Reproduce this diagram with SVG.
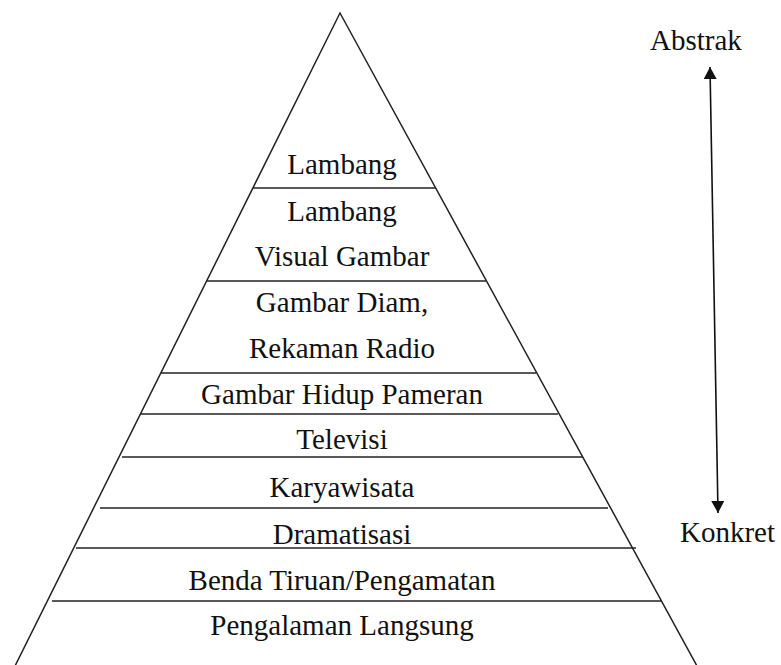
<svg xmlns="http://www.w3.org/2000/svg" width="781" height="665" viewBox="0 0 781 665">
<defs>
<style>
.t{font-family:"Liberation Serif","Times New Roman",serif;font-size:29px;fill:#111;text-anchor:middle}
.s{font-family:"Liberation Serif","Times New Roman",serif;font-size:29px;fill:#111}
.e{stroke:#222;stroke-width:1.5;fill:none}
.h{stroke:#222;stroke-width:1.6;fill:none}
.a{stroke:#111;stroke-width:1.6;fill:none}
</style>
<marker id="ah" viewBox="0 0 12 13" markerWidth="12" markerHeight="13" refX="12" refY="6.5" orient="auto-start-reverse" markerUnits="userSpaceOnUse">
<path d="M0,0 L12,6.5 L0,13 z" fill="#111"/>
</marker>
</defs>
<rect width="781" height="665" fill="#fff"/>
<g id="pyramid">
<polyline class="e" points="15,666 340,13 697,666"/>
<line class="h" x1="253" y1="188" x2="436" y2="188"/>
<line class="h" x1="207" y1="281" x2="486" y2="281"/>
<line class="h" x1="161" y1="373" x2="536" y2="373"/>
<line class="h" x1="141" y1="414" x2="558" y2="414"/>
<line class="h" x1="122" y1="457" x2="583" y2="457"/>
<line class="h" x1="100" y1="508" x2="608" y2="508"/>
<line class="h" x1="76" y1="548" x2="636" y2="548"/>
<line class="h" x1="52" y1="601" x2="662" y2="601"/>
</g>
<g id="lambang"><text class="t" x="342" y="174">Lambang</text></g>
<g id="lambang-visual"><text class="t" x="342" y="221">Lambang</text><text class="t" x="342" y="266">Visual Gambar</text></g>
<g id="gambar-diam"><text class="t" x="342" y="312">Gambar Diam,</text><text class="t" x="342" y="358">Rekaman Radio</text></g>
<g id="gambar-hidup"><text class="t" x="342" y="404">Gambar Hidup Pameran</text></g>
<g id="televisi"><text class="t" x="342" y="449">Televisi</text></g>
<g id="karyawisata"><text class="t" x="342" y="497">Karyawisata</text></g>
<g id="dramatisasi"><text class="t" x="342" y="544">Dramatisasi</text></g>
<g id="benda-tiruan"><text class="t" x="342" y="590">Benda Tiruan/Pengamatan</text></g>
<g id="pengalaman"><text class="t" x="342" y="635">Pengalaman Langsung</text></g>
<g id="abstrak"><text class="s" x="650" y="50">Abstrak</text></g>
<g id="konkret"><text class="s" x="680" y="542">Konkret</text></g>
<g id="connectors">
<line class="a" x1="710" y1="67" x2="718" y2="513" marker-start="url(#ah)" marker-end="url(#ah)"/>
</g>
</svg>
